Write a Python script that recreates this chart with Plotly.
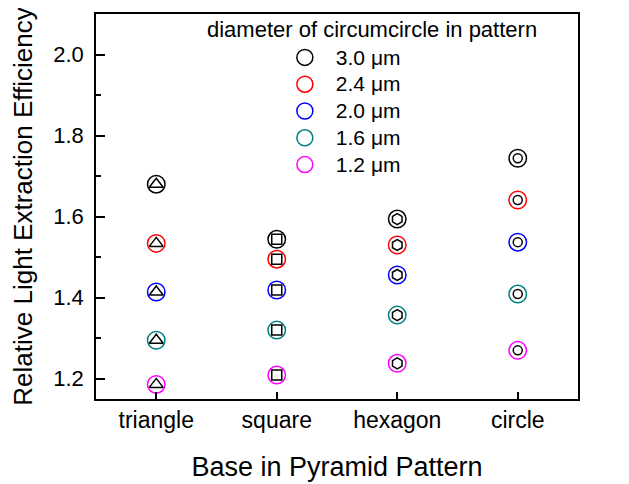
import plotly.graph_objects as go

categories = ["triangle", "square", "hexagon", "circle"]
cat_pos = [1, 2, 3, 4]
series_names = ["3.0 μm", "2.4 μm", "2.0 μm", "1.6 μm", "1.2 μm"]
d30 = [1.680, 1.544, 1.594, 1.744]
d24 = [1.534, 1.495, 1.530, 1.641]
d20 = [1.414, 1.419, 1.456, 1.537]
d16 = [1.295, 1.320, 1.357, 1.409]
d12 = [1.186, 1.209, 1.238, 1.270]
series_values = [d30, d24, d20, d16, d12]
series_colors = ["#000000", "#FF0000", "#0000FF", "#008080", "#FF00FF"]
inner_symbols = ["triangle-up-open", "square-open", "hexagon-open", "circle-open"]
inner_sizes = [12, 10, 11, 9]
y_ticks = [1.2, 1.4, 1.6, 1.8, 2.0]
y_minor = [1.3, 1.5, 1.7, 1.9]

FONT = "Arial, Liberation Sans, sans-serif"
fig = go.Figure()

for name, vals, col in zip(series_names, series_values, series_colors):
    fig.add_trace(go.Scatter(
        x=cat_pos, y=vals, mode="markers",
        name=f"<span style='font-size:21px'>{name}</span>",
        marker=dict(symbol="circle-open", size=17.5, color=col, line=dict(width=1.5, color=col)),
    ))
# inner black symbols
for vals in series_values:
    for i in range(len(categories)):
        fig.add_trace(go.Scatter(
            x=[cat_pos[i]], y=[vals[i]], mode="markers", showlegend=False,
            marker=dict(symbol=inner_symbols[i], size=inner_sizes[i], color="black",
                        line=dict(width=1.5, color="black")),
        ))

# page body has an 8px margin, so the figure is sized/offset to compensate
fig.update_layout(
    width=621, height=476,
    margin=dict(l=88, r=51, t=6, b=85),
    paper_bgcolor="white", plot_bgcolor="white",
    font=dict(family=FONT, color="black", size=20),
    legend=dict(
        x=0.369, y=0.935, xanchor="left", yanchor="top",
        font=dict(size=18.3, family=FONT), bgcolor="rgba(0,0,0,0)",
        itemwidth=52, itemsizing="trace",
    ),
    annotations=[dict(
        text="diameter of circumcircle in pattern", xref="paper", yref="paper",
        x=0.573, y=0.960, xanchor="center", yanchor="middle", showarrow=False,
        font=dict(size=22, family=FONT),
    )],
    xaxis=dict(
        range=[0.5, 4.5], tickmode="array", tickvals=cat_pos, ticktext=categories,
        ticks="inside", ticklen=7, tickwidth=1.5, tickcolor="black",
        showline=True, linecolor="black", linewidth=1.5, mirror=True,
        showgrid=False, zeroline=False, automargin=False,
        tickfont=dict(size=23, family=FONT), ticklabelstandoff=0,
        title=dict(text="Base in Pyramid Pattern", font=dict(size=27, family=FONT), standoff=25),
    ),
    yaxis=dict(
        range=[1.15, 2.1], tickmode="array", tickvals=y_ticks,
        ticktext=[f"{v:.1f}" for v in y_ticks],
        ticks="inside", ticklen=9, tickwidth=1.5, tickcolor="black",
        minor=dict(tickmode="array", tickvals=y_minor, ticks="inside",
                   ticklen=5, tickwidth=1.5, tickcolor="black"),
        showline=True, linecolor="black", linewidth=1.5, mirror=True,
        showgrid=False, zeroline=False, automargin=False,
        tickfont=dict(size=22, family=FONT), ticklabelstandoff=6,
        title=dict(text="Relative Light Extraction Efficiency", font=dict(size=26, family=FONT), standoff=18),
    ),
)

fig.write_html("out.html")
